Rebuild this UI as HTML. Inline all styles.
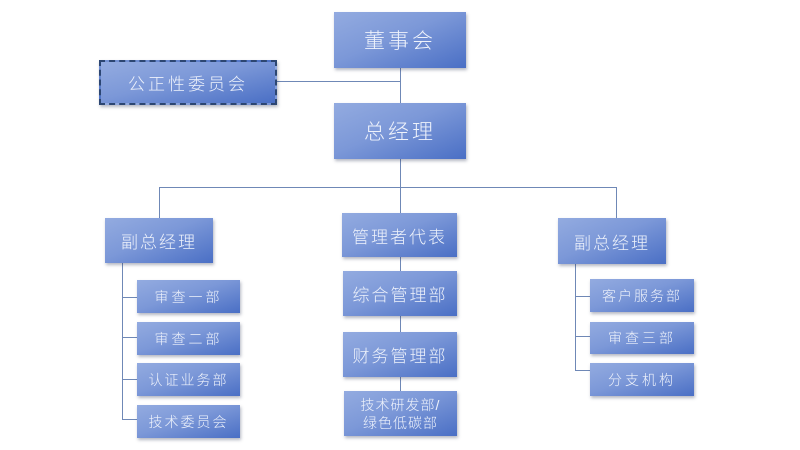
<!DOCTYPE html>
<html><head><meta charset="utf-8">
<style>
html,body{margin:0;padding:0;background:#fff;}
body{width:800px;height:450px;position:relative;overflow:hidden;font-family:"Liberation Sans","Noto Sans CJK SC",sans-serif;}
.b{position:absolute;box-sizing:border-box;background:linear-gradient(to bottom right,#93abe0 0%,#7c98d8 45%,#4a6fc5 100%);color:#eef2fb;font-weight:300;display:flex;align-items:center;justify-content:center;text-align:center;box-shadow:1px 2px 3px rgba(40,50,80,0.35);white-space:nowrap;}
.l{position:absolute;background:#6f88b6;}
</style></head><body>
<!-- lines -->
<div class="l" style="left:400px;top:68px;width:1px;height:35px;"></div>
<div class="l" style="left:277px;top:81px;width:123px;height:1px;"></div>
<div class="l" style="left:400px;top:159px;width:1px;height:55px;"></div>
<div class="l" style="left:159px;top:187px;width:458px;height:1px;"></div>
<div class="l" style="left:159px;top:187px;width:1px;height:31px;"></div>
<div class="l" style="left:616px;top:187px;width:1px;height:31px;"></div>
<div class="l" style="left:400px;top:257px;width:1px;height:134px;"></div>
<!-- left branch -->
<div class="l" style="left:122px;top:263px;width:1px;height:156px;"></div>
<div class="l" style="left:122px;top:297px;width:15px;height:1px;"></div>
<div class="l" style="left:122px;top:337px;width:15px;height:1px;"></div>
<div class="l" style="left:122px;top:379px;width:15px;height:1px;"></div>
<div class="l" style="left:122px;top:419px;width:15px;height:1px;"></div>
<!-- right branch -->
<div class="l" style="left:575px;top:264px;width:1px;height:106px;"></div>
<div class="l" style="left:575px;top:296px;width:15px;height:1px;"></div>
<div class="l" style="left:575px;top:336px;width:15px;height:1px;"></div>
<div class="l" style="left:575px;top:370px;width:15px;height:1px;"></div>

<!-- boxes -->
<div class="b" style="left:334px;top:12px;width:132px;height:56px;font-size:21px;letter-spacing:3px;">董事会</div>
<div class="b" style="left:99px;top:60px;width:178px;height:45px;font-size:17px;letter-spacing:3px;border:2px dashed #2c4672;">公正性委员会</div>
<div class="b" style="left:334px;top:103px;width:132px;height:56px;font-size:21px;letter-spacing:3px;">总经理</div>

<div class="b" style="left:105px;top:218px;width:108px;height:45px;font-size:17px;letter-spacing:2px;">副总经理</div>
<div class="b" style="left:137px;top:280px;width:103px;height:33px;font-size:14px;letter-spacing:3px;">审查一部</div>
<div class="b" style="left:137px;top:322px;width:103px;height:33px;font-size:14px;letter-spacing:3px;">审查二部</div>
<div class="b" style="left:137px;top:363px;width:103px;height:33px;font-size:14px;letter-spacing:2px;">认证业务部</div>
<div class="b" style="left:137px;top:405px;width:103px;height:33px;font-size:14px;letter-spacing:2px;">技术委员会</div>

<div class="b" style="left:342px;top:213px;width:115px;height:44px;font-size:17px;letter-spacing:2px;">管理者代表</div>
<div class="b" style="left:343px;top:271px;width:114px;height:45px;font-size:17px;letter-spacing:2px;">综合管理部</div>
<div class="b" style="left:343px;top:332px;width:114px;height:45px;font-size:17px;letter-spacing:2px;">财务管理部</div>
<div class="b" style="left:344px;top:391px;width:113px;height:45px;font-size:14px;letter-spacing:1px;line-height:18px;white-space:normal;">技术研发部/<br>绿色低碳部</div>

<div class="b" style="left:558px;top:218px;width:108px;height:46px;font-size:17px;letter-spacing:2px;">副总经理</div>
<div class="b" style="left:590px;top:279px;width:104px;height:33px;font-size:14px;letter-spacing:2px;">客户服务部</div>
<div class="b" style="left:590px;top:322px;width:104px;height:32px;font-size:14px;letter-spacing:3px;">审查三部</div>
<div class="b" style="left:590px;top:363px;width:104px;height:33px;font-size:14px;letter-spacing:3px;">分支机构</div>
</body></html>
